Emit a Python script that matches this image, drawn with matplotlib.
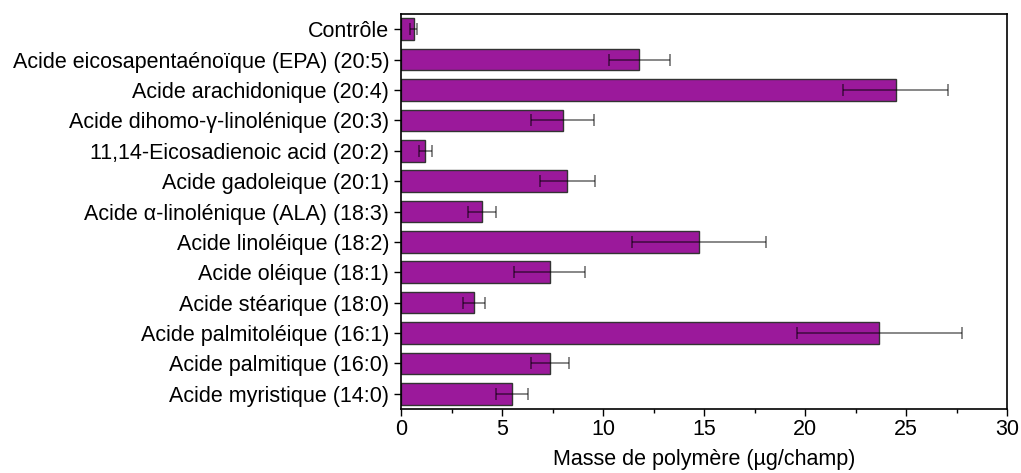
import matplotlib
matplotlib.use('Agg')
import matplotlib.pyplot as plt
from matplotlib.ticker import MultipleLocator

plt.rcParams['font.family'] = ['Liberation Sans', 'DejaVu Sans']

labels = ['Contrôle',
          'Acide eicosapentaénoïque (EPA) (20:5)',
          'Acide arachidonique (20:4)',
          'Acide dihomo-γ-linolénique (20:3)',
          '11,14-Eicosadienoic acid (20:2)',
          'Acide gadoleique (20:1)',
          'Acide α-linolénique (ALA) (18:3)',
          'Acide linoléique (18:2)',
          'Acide oléique (18:1)',
          'Acide stéarique (18:0)',
          'Acide palmitoléique (16:1)',
          'Acide palmitique (16:0)',
          'Acide myristique (14:0)']
values = [0.63, 11.8, 24.5, 8.0, 1.2, 8.23, 4.0, 14.75, 7.36, 3.6, 23.68, 7.37, 5.5]
errors = [0.17, 1.52, 2.6, 1.55, 0.33, 1.37, 0.71, 3.3, 1.77, 0.54, 4.1, 0.93, 0.78]

fig = plt.figure(figsize=(10.21, 4.73), dpi=100)
ax = fig.add_axes([0.3928, 0.1353, 0.5935, 0.8351])

ypos = list(range(len(labels)))
ax.barh(ypos, values, height=0.71, color='#9b199b', edgecolor='#333333', linewidth=1)
ax.errorbar(values, ypos, xerr=errors, fmt='none', ecolor='black', alpha=0.55,
            elinewidth=1.2, capsize=4, capthick=1.2)

ax.set_ylim(12.5, -0.5)
ax.set_xlim(0, 30)
ax.set_yticks(ypos)
ax.set_yticklabels(labels)
ax.xaxis.set_major_locator(MultipleLocator(5))
ax.xaxis.set_minor_locator(MultipleLocator(2.5))
ax.tick_params(axis='both', which='major', direction='out', length=5, width=1, labelsize=15.5)
ax.tick_params(axis='x', which='minor', direction='out', length=3, width=1)
ax.tick_params(axis='x', pad=2)
for s in ax.spines.values():
    s.set_linewidth(1.2)
ax.set_xlabel('Masse de polymère (µg/champ)', fontsize=15.5, labelpad=7)

fig.savefig('out.png', dpi=100)
